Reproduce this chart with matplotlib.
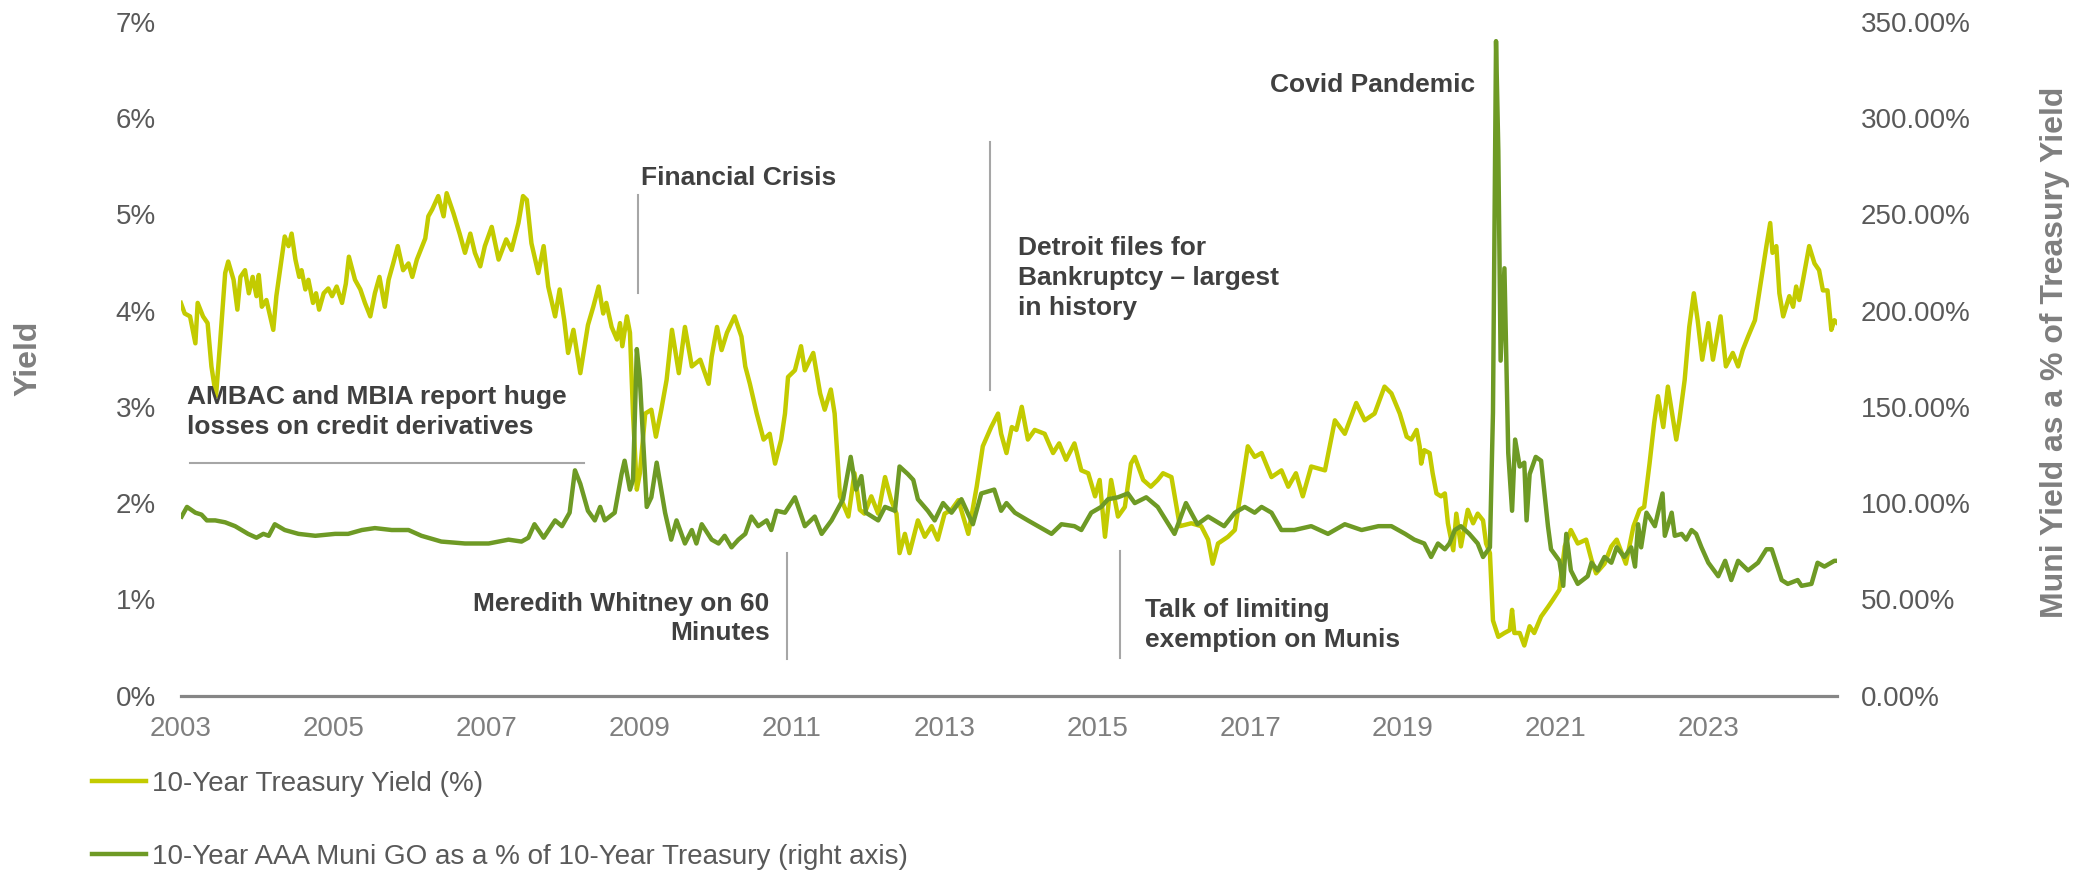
import matplotlib
matplotlib.use("Agg")
import matplotlib.pyplot as plt

plt.rcParams['font.family'] = ['Liberation Sans', 'DejaVu Sans']

# 10-year treasury yield (%) (x = fractional year)
tsy_dates = [
    2003.00, 2003.05, 2003.12, 2003.19, 2003.22, 2003.29, 2003.35, 2003.40, 2003.46, 2003.51,
    2003.58, 2003.62, 2003.69, 2003.74, 2003.78, 2003.84, 2003.89, 2003.94, 2003.99, 2004.02,
    2004.06, 2004.12, 2004.21, 2004.25, 2004.31, 2004.36, 2004.41, 2004.45, 2004.50, 2004.55,
    2004.58, 2004.63, 2004.67, 2004.73, 2004.77, 2004.81, 2004.87, 2004.93, 2004.98, 2005.04,
    2005.11, 2005.16, 2005.20, 2005.28, 2005.35, 2005.41, 2005.48, 2005.54, 2005.60, 2005.67,
    2005.72, 2005.78, 2005.84, 2005.91, 2005.98, 2006.03, 2006.09, 2006.20, 2006.24, 2006.29,
    2006.37, 2006.44, 2006.48, 2006.57, 2006.65, 2006.72, 2006.79, 2006.85, 2006.92, 2006.98,
    2007.07, 2007.16, 2007.26, 2007.33, 2007.42, 2007.48, 2007.53, 2007.59, 2007.68, 2007.75,
    2007.81, 2007.90, 2007.96, 2008.02, 2008.07, 2008.14, 2008.23, 2008.33, 2008.40, 2008.47,
    2008.53, 2008.57, 2008.64, 2008.71, 2008.75, 2008.78, 2008.84, 2008.88, 2008.92, 2008.97,
    2009.01, 2009.08, 2009.16, 2009.22, 2009.29, 2009.36, 2009.43, 2009.52, 2009.60, 2009.69,
    2009.80, 2009.91, 2009.95, 2010.02, 2010.08, 2010.15, 2010.25, 2010.34, 2010.39, 2010.45,
    2010.54, 2010.63, 2010.71, 2010.78, 2010.86, 2010.91, 2010.95, 2011.04, 2011.12, 2011.17,
    2011.28, 2011.37, 2011.43, 2011.51, 2011.56, 2011.63, 2011.74, 2011.82, 2011.89, 2011.95,
    2012.04, 2012.13, 2012.22, 2012.30, 2012.37, 2012.41, 2012.48, 2012.54, 2012.65, 2012.74,
    2012.83, 2012.91, 2013.00, 2013.09, 2013.18, 2013.31, 2013.42, 2013.50, 2013.61, 2013.70,
    2013.74, 2013.81, 2013.88, 2013.94, 2014.01, 2014.09, 2014.18, 2014.31, 2014.42, 2014.50,
    2014.59, 2014.70, 2014.79, 2014.88, 2014.97, 2015.03, 2015.10, 2015.18, 2015.27, 2015.36,
    2015.44, 2015.49, 2015.60, 2015.70, 2015.79, 2015.86, 2015.97, 2016.08, 2016.23, 2016.36,
    2016.45, 2016.51, 2016.58, 2016.71, 2016.80, 2016.89, 2016.97, 2017.06, 2017.15, 2017.28,
    2017.41, 2017.50, 2017.60, 2017.69, 2017.80, 2017.98, 2018.06, 2018.11, 2018.24, 2018.39,
    2018.50, 2018.63, 2018.76, 2018.85, 2018.96, 2019.05, 2019.11, 2019.18, 2019.22, 2019.24,
    2019.28, 2019.35, 2019.39, 2019.44, 2019.50, 2019.55, 2019.59, 2019.66, 2019.70, 2019.76,
    2019.85, 2019.92, 2019.98, 2020.05, 2020.09, 2020.14, 2020.18, 2020.25, 2020.33, 2020.40,
    2020.43, 2020.46, 2020.53, 2020.59, 2020.66, 2020.72, 2020.81, 2020.90, 2020.96, 2021.05,
    2021.12, 2021.20, 2021.29, 2021.40, 2021.47, 2021.53, 2021.64, 2021.73, 2021.80, 2021.92,
    2022.02, 2022.10, 2022.16, 2022.23, 2022.29, 2022.34, 2022.41, 2022.47, 2022.58, 2022.62,
    2022.69, 2022.75, 2022.81, 2022.86, 2022.92, 2023.00, 2023.06, 2023.16, 2023.23, 2023.32,
    2023.39, 2023.45, 2023.52, 2023.61, 2023.67, 2023.76, 2023.81, 2023.84, 2023.89, 2023.93,
    2023.98, 2024.06, 2024.11, 2024.15, 2024.19, 2024.24, 2024.32, 2024.39, 2024.45, 2024.50,
    2024.56, 2024.61, 2024.65, 2024.69,
]
tsy_yield = [
    4.08, 3.97, 3.94, 3.66, 4.08, 3.94, 3.87, 3.42, 3.11, 3.63,
    4.39, 4.51, 4.32, 4.01, 4.35, 4.42, 4.18, 4.35, 4.15, 4.37,
    4.04, 4.11, 3.80, 4.15, 4.49, 4.77, 4.67, 4.80, 4.53, 4.35,
    4.42, 4.22, 4.32, 4.08, 4.18, 4.01, 4.18, 4.23, 4.15, 4.25,
    4.08, 4.28, 4.56, 4.32, 4.22, 4.08, 3.94, 4.18, 4.35, 4.04,
    4.32, 4.49, 4.67, 4.42, 4.49, 4.35, 4.53, 4.75, 4.98, 5.05,
    5.19, 4.98, 5.22, 5.01, 4.80, 4.60, 4.80, 4.60, 4.46, 4.67,
    4.87, 4.53, 4.74, 4.63, 4.91, 5.19, 5.15, 4.70, 4.39, 4.67,
    4.25, 3.94, 4.22, 3.90, 3.56, 3.80, 3.35, 3.85, 4.04, 4.25,
    3.97, 4.08, 3.83, 3.70, 3.87, 3.63, 3.94, 3.77, 2.93, 2.14,
    2.31, 2.93, 2.97, 2.69, 2.97, 3.28, 3.80, 3.35, 3.83, 3.42,
    3.49, 3.24, 3.52, 3.83, 3.59, 3.77, 3.94, 3.73, 3.42, 3.24,
    2.93, 2.66, 2.72, 2.41, 2.66, 2.93, 3.31, 3.38, 3.63, 3.38,
    3.56, 3.14, 2.97, 3.18, 2.93, 2.07, 1.86, 2.31, 1.93, 1.89,
    2.07, 1.89, 2.27, 2.03, 1.89, 1.48, 1.68, 1.48, 1.82, 1.65,
    1.76, 1.62, 1.89, 1.93, 2.03, 1.68, 2.17, 2.59, 2.79, 2.93,
    2.72, 2.52, 2.79, 2.76, 3.00, 2.66, 2.76, 2.72, 2.52, 2.62,
    2.45, 2.62, 2.34, 2.31, 2.07, 2.24, 1.65, 2.24, 1.86, 1.96,
    2.41, 2.48, 2.24, 2.17, 2.24, 2.31, 2.27, 1.76, 1.79, 1.76,
    1.62, 1.37, 1.58, 1.65, 1.72, 2.17, 2.59, 2.48, 2.52, 2.27,
    2.34, 2.17, 2.31, 2.07, 2.38, 2.34, 2.66, 2.86, 2.72, 3.04,
    2.86, 2.93, 3.21, 3.14, 2.93, 2.69, 2.66, 2.76, 2.59, 2.41,
    2.55, 2.52, 2.31, 2.10, 2.07, 2.10, 1.79, 1.51, 1.89, 1.55,
    1.93, 1.79, 1.89, 1.82, 1.58, 1.48, 0.78, 0.61, 0.65, 0.68,
    0.89, 0.65, 0.65, 0.52, 0.72, 0.65, 0.82, 0.92, 0.99, 1.10,
    1.55, 1.72, 1.58, 1.62, 1.41, 1.27, 1.37, 1.55, 1.62, 1.37,
    1.76, 1.93, 1.96, 2.41, 2.83, 3.11, 2.79, 3.21, 2.66, 2.86,
    3.28, 3.83, 4.18, 3.90, 3.49, 3.87, 3.49, 3.94, 3.42, 3.56,
    3.42, 3.59, 3.73, 3.90, 4.21, 4.67, 4.91, 4.60, 4.67, 4.18,
    3.94, 4.15, 4.04, 4.25, 4.11, 4.32, 4.67, 4.49, 4.42, 4.21,
    4.21, 3.80, 3.90, 3.87,
]

# 10-year AAA muni GO yield as % of 10-year treasury (right axis)
muni_dates = [
    2003.01, 2003.08, 2003.19, 2003.27, 2003.34, 2003.45, 2003.58, 2003.71, 2003.88, 2003.99,
    2004.08, 2004.15, 2004.23, 2004.36, 2004.54, 2004.76, 2005.02, 2005.19, 2005.37, 2005.54,
    2005.76, 2005.98, 2006.15, 2006.41, 2006.72, 2007.03, 2007.29, 2007.46, 2007.55, 2007.63,
    2007.75, 2007.90, 2007.99, 2008.09, 2008.16, 2008.23, 2008.33, 2008.42, 2008.49, 2008.55,
    2008.68, 2008.77, 2008.81, 2008.88, 2008.92, 2008.97, 2009.01, 2009.10, 2009.16, 2009.23,
    2009.34, 2009.42, 2009.49, 2009.60, 2009.69, 2009.75, 2009.82, 2009.95, 2010.04, 2010.12,
    2010.21, 2010.30, 2010.39, 2010.47, 2010.56, 2010.67, 2010.73, 2010.80, 2010.91, 2011.04,
    2011.17, 2011.30, 2011.39, 2011.52, 2011.67, 2011.77, 2011.84, 2011.91, 2011.97, 2012.13,
    2012.22, 2012.35, 2012.41, 2012.52, 2012.59, 2012.65, 2012.78, 2012.87, 2012.98, 2013.09,
    2013.22, 2013.37, 2013.48, 2013.65, 2013.74, 2013.81, 2013.92, 2014.09, 2014.31, 2014.40,
    2014.53, 2014.70, 2014.79, 2014.92, 2015.05, 2015.14, 2015.27, 2015.40, 2015.49, 2015.64,
    2015.79, 2016.01, 2016.16, 2016.31, 2016.45, 2016.66, 2016.80, 2016.93, 2017.06, 2017.15,
    2017.28, 2017.41, 2017.58, 2017.80, 2018.02, 2018.24, 2018.46, 2018.68, 2018.85, 2019.03,
    2019.15, 2019.28, 2019.37, 2019.46, 2019.55, 2019.61, 2019.68, 2019.76, 2019.87, 2019.98,
    2020.05, 2020.14, 2020.18, 2020.22, 2020.25, 2020.28, 2020.33, 2020.38, 2020.43, 2020.47,
    2020.53, 2020.59, 2020.62, 2020.66, 2020.74, 2020.81, 2020.90, 2020.94, 2021.05, 2021.10,
    2021.14, 2021.20, 2021.29, 2021.42, 2021.47, 2021.55, 2021.64, 2021.73, 2021.80, 2021.90,
    2021.99, 2022.04, 2022.08, 2022.12, 2022.19, 2022.30, 2022.40, 2022.43, 2022.52, 2022.56,
    2022.65, 2022.71, 2022.78, 2022.84, 2022.91, 2023.00, 2023.13, 2023.22, 2023.30, 2023.39,
    2023.52, 2023.65, 2023.76, 2023.83, 2023.96, 2024.04, 2024.17, 2024.22, 2024.35, 2024.43,
    2024.52, 2024.65, 2024.69,
]
muni_ratio = [
    93, 98, 95, 94, 91, 91, 90, 88, 84, 82,
    84, 83, 89, 86, 84, 83, 84, 84, 86, 87,
    86, 86, 83, 80, 79, 79, 81, 80, 82, 89,
    82, 91, 88, 95, 117, 110, 96, 91, 98, 91,
    95, 115, 122, 107, 112, 180, 164, 98, 103, 121,
    95, 81, 91, 79, 86, 79, 89, 81, 79, 83,
    77, 81, 84, 93, 88, 91, 86, 96, 95, 103,
    88, 93, 84, 91, 102, 124, 107, 114, 95, 91,
    98, 96, 119, 115, 112, 102, 96, 91, 100, 95,
    102, 89, 105, 107, 96, 100, 95, 91, 86, 84,
    89, 88, 86, 95, 98, 102, 103, 105, 100, 103,
    98, 84, 100, 89, 93, 88, 95, 98, 95, 98,
    95, 86, 86, 88, 84, 89, 86, 88, 88, 84,
    81, 79, 72, 79, 76, 79, 86, 88, 84, 79,
    72, 77, 147, 340, 283, 174, 222, 126, 96, 133,
    119, 121, 91, 115, 124, 122, 88, 76, 70, 57,
    84, 65, 58, 62, 69, 65, 72, 69, 77, 72,
    77, 67, 89, 77, 95, 88, 105, 83, 95, 83,
    84, 81, 86, 84, 77, 69, 62, 70, 60, 70,
    65, 69, 76, 76, 60, 58, 60, 57, 58, 69,
    67, 70, 70,
]

year_ticks = list(range(2003, 2024, 2))

tsy_color = "#c3cb00"
muni_color = "#6e9a25"
note_color = "#404040"
rule_color = "#a6a6a6"

fig = plt.figure(figsize=(20.79, 8.76), dpi=100)
ax = fig.add_axes([0.087, 0.206, 0.7968, 0.769])
ax2 = ax.twinx()

l1, = ax.plot(tsy_dates, tsy_yield, color=tsy_color, lw=3.2,
              label="10-Year Treasury Yield (%)")
l2, = ax2.plot(muni_dates, muni_ratio, color=muni_color, lw=3.2,
               label="10-Year AAA Muni GO as a % of 10-Year Treasury (right axis)")

ax.set_xlim(2003, 2024.69)
ax.set_ylim(0, 7)
ax2.set_ylim(0, 350)

ax.set_xticks(year_ticks)
ax.set_xticklabels([str(y) for y in year_ticks])
ax.set_yticks(range(0, 8))
ax.set_yticklabels([f"{v}%" for v in range(0, 8)])
ax2.set_yticks(range(0, 351, 50))
ax2.set_yticklabels([f"{v:.2f}%" for v in range(0, 351, 50)])

ax.tick_params(axis='x', length=0, pad=15, labelsize=20, labelcolor="#7f7f7f")
ax.tick_params(axis='y', length=0, pad=18, labelsize=20, labelcolor="#595959")
ax2.tick_params(axis='y', length=0, pad=17, labelsize=20, labelcolor="#595959")

for s in ["top", "left", "right"]:
    ax.spines[s].set_visible(False)
for s in ax2.spines.values():
    s.set_visible(False)
ax.spines["bottom"].set_color("#868686")
ax.spines["bottom"].set_linewidth(2.3)

fig.text(28 / 2079, 1 - 358 / 876, "Yield", rotation=90, ha="center", va="center",
         fontsize=23, fontweight="bold", color="#7f7f7f")
fig.text(2055 / 2079, 1 - 352 / 876, "Muni Yield as a % of Treasury Yield", rotation=90,
         ha="center", va="center", fontsize=23, fontweight="bold", color="#7f7f7f")

# event notes
note = dict(fontsize=19, fontweight="bold", color=note_color, linespacing=1.3)
ax.text(2009.02, 5.38, "Financial Crisis", ha="left", va="center", **note)
ax.plot([2008.98, 2008.98], [4.18, 5.20], color=rule_color, lw=1.5)

ax.text(2003.08, 2.95, "AMBAC and MBIA report huge\nlosses on credit derivatives",
        ha="left", va="center", **note)
ax.plot([2003.12, 2008.28], [2.42, 2.42], color=rule_color, lw=1.5)

ax.text(2010.71, 0.80, "Meredith Whitney on 60\nMinutes", ha="right", va="center",
        multialignment="right", **note)
ax.plot([2010.93, 2010.93], [0.38, 1.48], color=rule_color, lw=1.5)

ax.text(2013.96, 4.34, "Detroit files for\nBankruptcy \u2013 largest\nin history",
        ha="left", va="center", **note)
ax.plot([2013.60, 2013.60], [3.17, 5.75], color=rule_color, lw=1.5)

ax.text(2015.63, 0.73, "Talk of limiting\nexemption on Munis", ha="left", va="center", **note)
ax.plot([2015.29, 2015.29], [0.39, 1.50], color=rule_color, lw=1.5)

ax.text(2019.94, 6.34, "Covid Pandemic", ha="right", va="center", **note)

fig.legend(handles=[l1, l2], loc="center left", bbox_to_anchor=(0.0443, 0.0634),
           frameon=False, fontsize=20, labelcolor="#595959", handlelength=1.95,
           handletextpad=0.2, labelspacing=1.7, borderpad=0, borderaxespad=0)

plt.savefig("out.png", dpi=100)
